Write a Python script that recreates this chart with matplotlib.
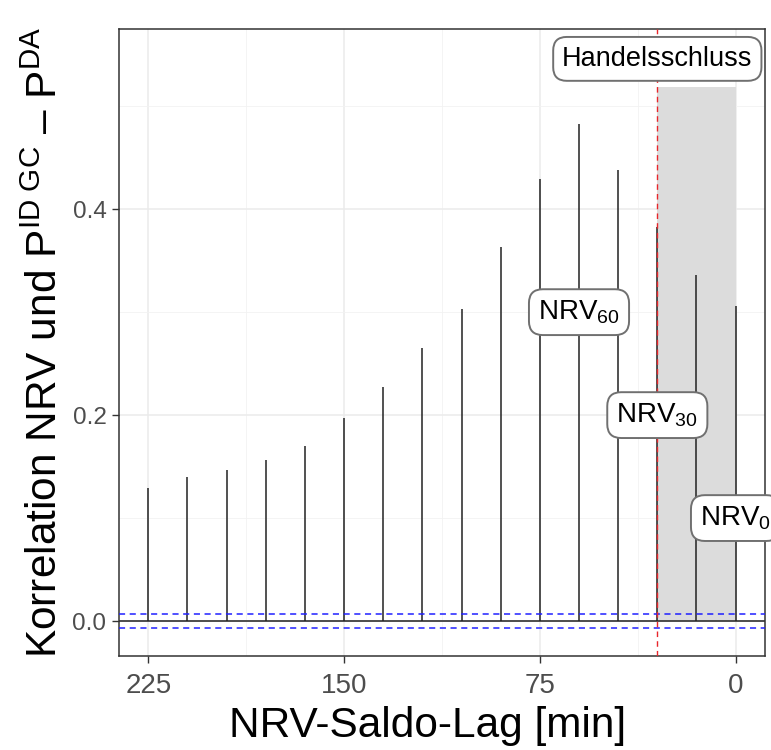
import numpy as np
import matplotlib.pyplot as plt

plt.rcParams['font.family'] = ['Liberation Sans', 'DejaVu Sans']
plt.rcParams['mathtext.fontset'] = 'custom'
plt.rcParams['mathtext.rm'] = 'Liberation Sans'
plt.rcParams['mathtext.it'] = 'Liberation Sans'
plt.rcParams['mathtext.default'] = 'regular'

# lag in minutes and correlation values
lags = [225, 210, 195, 180, 165, 150, 135, 120, 105, 90, 75, 60, 45, 30, 15, 0]
corr = [0.129, 0.140, 0.147, 0.156, 0.170, 0.197, 0.227, 0.265,
        0.303, 0.363, 0.429, 0.483, 0.438, 0.383, 0.336, 0.306]
conf = 0.0065

label_x = [60, 30, 0]
label_y = [0.30, 0.20, 0.10]
label_txt = [r'NRV$_{60}$', r'NRV$_{30}$', r'NRV$_{0}$']

close_x = 30
shade_top = 0.519

fig = plt.figure(figsize=(7.71, 7.5), dpi=100)
ax = fig.add_axes([0.1543, 0.1253, 0.8379, 0.836])

# grid
for x in [225, 150, 75, 0]:
    ax.axvline(x, color='#ebebeb', lw=1.1, zorder=0)
for x in [187.5, 112.5, 37.5]:
    ax.axvline(x, color='#f2f2f2', lw=0.6, zorder=0)
for y in [0.0, 0.2, 0.4]:
    ax.axhline(y, color='#ebebeb', lw=1.1, zorder=0)
for y in [0.1, 0.3, 0.5]:
    ax.axhline(y, color='#f2f2f2', lw=0.6, zorder=0)

# shaded region after trading close
ax.fill_between([close_x, 0], 0, shade_top, color='#dcdcdc', lw=0, zorder=1)

ax.vlines(lags, 0, corr, color='#222222', lw=1.1, zorder=2)
ax.axhline(0, color='#222222', lw=1.1, zorder=2)
ax.axhline(conf, color='#2020ff', ls=(0, (4, 3)), lw=1.1, zorder=3)
ax.axhline(-conf, color='#2020ff', ls=(0, (4, 3)), lw=1.1, zorder=3)
ax.axvline(close_x, color='#e8262b', ls=(0, (4, 3)), lw=1.0, zorder=3)

box = dict(boxstyle='round,pad=0.33,rounding_size=0.5', fc='white', ec='#707070', lw=1.4)
for x, y, t in zip(label_x, label_y, label_txt):
    ax.text(x, y, t, ha='center', va='center', fontsize=20, bbox=box, zorder=5, clip_on=False)
ax.text(close_x, 0.546, 'Handelsschluss', ha='center', va='center', fontsize=19.5,
        bbox=box, zorder=5, clip_on=False)

ax.set_xlim(236.25, -11.25)
ax.set_ylim(-0.034, 0.575)
ax.set_xticks([225, 150, 75, 0])
ax.set_xticklabels(['225', '150', '75', '0'])
ax.set_yticks([0.0, 0.2, 0.4])
ax.set_yticklabels(['0.0', '0.2', '0.4'])
ax.tick_params(colors='#333333', labelcolor='#4d4d4d', length=5, width=1)
ax.tick_params(axis='x', labelsize=20, pad=7)
ax.tick_params(axis='y', labelsize=17.5, pad=4)
for s in ax.spines.values():
    s.set_color('#333333')
    s.set_linewidth(1.1)

ax.set_xlabel('NRV-Saldo-Lag [min]', fontsize=30.5)
ax.xaxis.set_label_coords(0.478, -0.0797)
ax.set_ylabel(r'Korrelation NRV und P$^{ID\,\,GC}$ – P$^{DA}$', fontsize=30.5)
ax.yaxis.set_label_coords(-0.082, 0.5)

fig.savefig('out.png', dpi=100)
